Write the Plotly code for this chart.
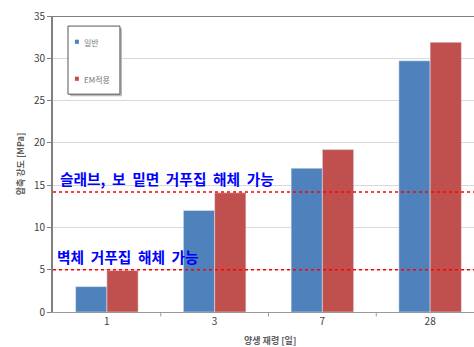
import plotly.graph_objects as go

categories = ["1", "3", "7", "28"]
normal = [3.0, 12.0, 17.0, 29.7]
em = [4.9, 14.1, 19.2, 31.9]
series_names = ["일반", "EM적용"]
threshold_values = [14.2, 5.0]
threshold_labels = ["슬래브,&nbsp; 보&nbsp;&nbsp;밑면&nbsp;&nbsp;거푸집&nbsp;&nbsp;해체&nbsp;&nbsp;가능",
                    "벽체&nbsp;&nbsp;거푸집&nbsp;&nbsp;해체&nbsp;&nbsp;가능"]
y_ticks = [0, 5, 10, 15, 20, 25, 30, 35]

blue = "#4F81BD"
red = "#C0504D"
colors = [blue, red]
font = "Noto Sans CJK KR"

fig = go.Figure()
fig.add_trace(go.Bar(x=categories, y=normal, name=series_names[0], marker_color=blue,
                     showlegend=False))
fig.add_trace(go.Bar(x=categories, y=em, name=series_names[1], marker_color=red,
                     showlegend=False))

shapes = []
for v in threshold_values:
    shapes.append(dict(type="line", xref="paper", yref="y", x0=0, x1=1, y0=v, y1=v,
                       line=dict(color="#FF0000", width=1.5, dash="dot"), layer="above"))
# top border
shapes.append(dict(type="line", xref="paper", yref="y", x0=0, x1=1, y0=35, y1=35,
                   line=dict(color="#808080", width=2)))
# category separators ticks
for i in range(len(categories) - 1):
    shapes.append(dict(type="line", xref="x", yref="paper", x0=i + 0.5, x1=i + 0.5,
                       y0=0, y1=-0.015, line=dict(color="#999999", width=1)))

# manual legend box (paper coords)
lx0, lx1, ly0, ly1 = 0.0356, 0.159, 0.736, 0.966
shapes.append(dict(type="rect", xref="paper", yref="paper", x0=lx0 + 0.005, x1=lx1 + 0.005,
                   y0=ly0 - 0.007, y1=ly1 - 0.007, line=dict(width=0),
                   fillcolor="#BBBBBB", layer="above"))
shapes.append(dict(type="rect", xref="paper", yref="paper", x0=lx0, x1=lx1, y0=ly0, y1=ly1,
                   line=dict(color="#555555", width=1), fillcolor="white", layer="above"))
legend_rows = [0.912, 0.787]
annotations = []
for name, col, yy in zip(series_names, colors, legend_rows):
    shapes.append(dict(type="rect", xref="paper", yref="paper", x0=0.052, x1=0.0615,
                       y0=yy - 0.006, y1=yy + 0.008, line=dict(width=0), fillcolor=col,
                       layer="above"))
    annotations.append(dict(x=0.068, y=yy, xref="paper", yref="paper", text=name,
                            showarrow=False, xanchor="left", yanchor="middle",
                            font=dict(family=font, size=8, color="#777777")))

annotations.append(dict(x=0, y=threshold_values[0], xref="paper", yref="y",
                        text="<b>" + threshold_labels[0] + "</b>", showarrow=False,
                        xanchor="left", yanchor="bottom", xshift=5, yshift=1,
                        font=dict(family=font, size=14.7, color="#0000FF")))
annotations.append(dict(x=0, y=threshold_values[1], xref="paper", yref="y",
                        text="<b>" + threshold_labels[1] + "</b>", showarrow=False,
                        xanchor="left", yanchor="bottom", xshift=2, yshift=1,
                        font=dict(family=font, size=14.7, color="#0000FF")))
annotations.append(dict(x=0.5, y=0, xref="paper", yref="paper",
                        text="<b>양생 재령 [일]</b>", showarrow=False,
                        xanchor="center", yanchor="top", xshift=6, yshift=-20,
                        font=dict(family=font, size=9, color="#606060")))

fig.update_layout(
    width=474, height=347,
    margin=dict(l=53, r=0, t=16, b=35),
    paper_bgcolor="white", plot_bgcolor="white",
    barmode="group", bargap=0.42, bargroupgap=0,
    font=dict(family=font, color="#404040"),
    shapes=shapes, annotations=annotations,
    showlegend=False,
    xaxis=dict(range=[-0.5, 3.407], showline=True, linecolor="#999999", linewidth=1,
               tickfont=dict(size=10, color="#404040"), ticks=""),
    yaxis=dict(range=[0, 35], tickvals=y_ticks, showline=True, linecolor="#808080",
               linewidth=2, showgrid=True, gridcolor="#D9D9D9", gridwidth=1,
               ticks="outside", ticklen=4, tickcolor="#808080",
               tickfont=dict(size=10, color="#404040"), zeroline=False,
               title=dict(text="<b>압축 강도 [MPa]</b>", font=dict(size=9, color="#606060"),
                          standoff=8)),
)

fig.write_html("out.html")
